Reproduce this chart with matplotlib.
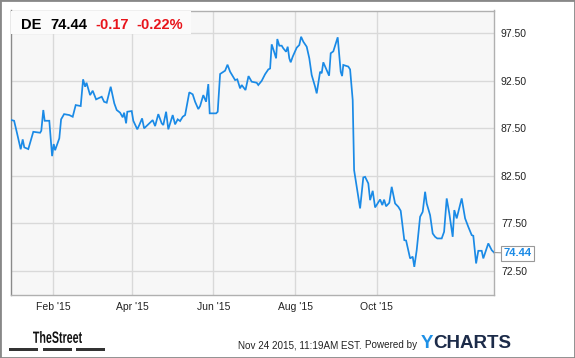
import matplotlib
matplotlib.use("Agg")
import matplotlib.pyplot as plt
from matplotlib.patches import Rectangle, PathPatch
from matplotlib.textpath import TextPath
from matplotlib.font_manager import FontProperties
from matplotlib.transforms import Affine2D

plt.rcParams.update({
    "font.family": "Liberation Sans",
    "font.size": 7.5,
})

# session index (roughly trading days since start of Jan '15) and DE close
sessions = [0, 1.8, 3.1, 5.1, 6.1, 6.9, 8.9, 11.4, 14.8, 15.4, 16.4, 17.1, 19.4, 20.8,
            21.6, 22.3, 24.4, 25.3, 26.8, 29.4, 31.1, 32.6, 35.1, 36.3, 37.3, 38.0,
            39.8, 41.1, 42.8, 45.6, 46.8, 48.1, 50.1, 51.9, 53.1, 54.8, 56.1, 56.8,
            57.8, 58.4, 60.6, 61.4, 63.4, 64.4, 65.8, 66.8, 68.9, 71.1, 72.3, 73.9,
            75.6, 76.4, 77.8, 78.9, 81.1, 82.3, 83.6, 84.8, 86.1, 87.3, 89.4, 91.1,
            92.3, 93.9, 94.8, 96.4, 97.8, 98.9, 99.6, 102.8, 103.6, 104.8, 107.3,
            108.5, 109.8, 112.3, 113.4, 114.8, 115.6, 117.5, 119.0, 120.6, 123.1,
            123.9, 125.6, 127.3, 128.9, 129.8, 130.6, 131.8, 132.8, 133.4, 134.4,
            135.6, 136.4, 137.8, 138.6, 139.4, 140.1, 141.1, 143.1, 144.4, 145.3,
            146.4, 148.1, 149.4, 150.6, 152.3, 153.1, 153.9, 154.8, 155.6, 156.4,
            158.1, 159.3, 160.1, 161.4, 163.6, 165.1, 165.8, 166.4, 168.9, 169.8,
            171.1, 171.8, 173.4, 174.8, 176.4, 177.3, 178.9, 179.8, 181.1, 182.3,
            184.8, 185.9, 186.8, 187.8, 189.4, 190.6, 192.3, 193.9, 195.1, 196.9,
            197.8, 199.8, 201.1, 201.9, 203.1, 204.8, 206.1, 207.3, 208.1, 209.8,
            211.1, 212.3, 213.4, 215.6, 216.8, 218.1, 219.4, 221.1, 221.9, 223.1,
            225.6, 227.3, 228.9, 230.6, 231.4, 232.8, 233.9, 235.6, 236.4, 238.9,
            240.6, 241.75]
prices = [88.40, 88.30, 87.14, 85.30, 86.34, 85.50, 85.32, 87.14, 87.04, 87.25, 89.43,
          88.30, 88.30, 84.58, 85.85, 85.20, 86.45, 88.45, 89.00, 88.90, 88.72, 89.95,
          89.85, 92.66, 91.88, 92.30, 91.00, 91.46, 90.55, 90.83, 90.30, 90.20, 91.88,
          90.13, 89.43, 89.15, 88.66, 89.15, 88.03, 89.25, 89.32, 88.30, 87.40, 87.85,
          88.55, 87.50, 87.92, 88.37, 87.74, 89.00, 88.03, 87.85, 89.25, 87.40, 88.90,
          87.92, 88.45, 88.27, 88.72, 88.90, 91.29, 91.08, 90.30, 89.53, 89.85, 91.00,
          90.30, 92.16, 89.08, 89.08, 89.25, 93.22, 93.57, 94.20, 93.46, 92.58, 92.66,
          91.71, 92.06, 91.53, 93.00, 92.41, 92.30, 92.06, 92.50, 93.20, 93.70, 93.80,
          96.34, 95.56, 94.87, 96.90, 96.20, 96.20, 95.92, 95.56, 96.09, 94.87, 94.45,
          95.04, 95.99, 96.27, 97.14, 96.62, 96.09, 94.87, 93.11, 91.88, 91.18, 92.24,
          93.46, 93.30, 94.45, 93.64, 93.04, 95.40, 95.60, 97.08, 93.46, 93.00, 94.17,
          94.00, 93.70, 90.48, 83.11, 81.00, 79.08, 82.34, 82.40, 81.71, 79.95, 80.93,
          79.18, 80.02, 79.43, 80.00, 79.30, 79.67, 81.35, 79.60, 79.25, 78.83, 75.74,
          75.70, 73.82, 74.00, 72.93, 74.69, 78.20, 78.72, 80.83, 79.60, 78.37, 76.44,
          76.09, 75.92, 75.92, 76.62, 80.13, 78.55, 76.09, 78.90, 78.03, 80.13, 78.03,
          77.14, 76.27, 76.20, 73.29, 74.62, 74.62, 73.82, 75.40, 74.69, 74.44]

tick_pos = [21.4, 60.9, 101.4, 142.25, 183.1]
tick_labels = ["Feb '15", "Apr '15", "Jun '15", "Aug '15", "Oct '15"]
y_ticks = [72.5, 77.5, 82.5, 87.5, 92.5, 97.5]

W, H = 575, 358
fig = plt.figure(figsize=(W / 100, H / 100), dpi=100)
fig.patch.set_facecolor("white")
ax = fig.add_axes([10.5 / W, 1 - 295 / H, 483.5 / W, 284.5 / H])
ax.set_facecolor("#f7f7f7")

ax.plot(sessions, prices, color="#1a8ae6", lw=1.25, solid_joinstyle="miter", zorder=3)

ax.set_xlim(0, 241.75)
ax.set_ylim(69.97, 99.9)
ax.set_xticks(tick_pos)
ax.set_xticklabels(tick_labels)
ax.set_yticks(y_ticks)
ax.set_yticklabels(["%.2f" % v for v in y_ticks])
ax.yaxis.tick_right()
ax.tick_params(length=0, colors="#222222", labelsize=7.5)
ax.tick_params(axis="y", pad=5)
ax.tick_params(axis="x", pad=5)
ax.grid(True, color="#d9d9d9", lw=1)
ax.set_axisbelow(True)
for s in ax.spines.values():
    s.set_color("#b0b0b0")
    s.set_linewidth(1)
ax.spines["left"].set_color("#8a8a8a")

# header box with quote
fig.add_artist(Rectangle((11 / W, 1 - 34 / H), 180 / W, 23 / H, transform=fig.transFigure,
                         facecolor="#fbfbfb", edgecolor="none", zorder=5))
base = 1 - 29 / H
fig.text(21 / W, base, "DE", fontsize=10.5, fontweight="bold", color="black", zorder=6)
fig.text(50 / W, base, "74.44", fontsize=10.5, fontweight="bold", color="black", zorder=6)
fig.text(95 / W, base, "-0.17", fontsize=10.5, fontweight="bold", color="#e8141b", zorder=6)
fig.text(136 / W, base, "-0.22%", fontsize=10.5, fontweight="bold", color="#e8141b", zorder=6)

# last value tag
ax.annotate("74.44", xy=(sessions[-1], prices[-1]), xytext=(517.5, H - 253.5),
            textcoords="figure pixels", ha="center", va="center",
            fontsize=8, fontweight="bold", color="#1a8ae6",
            bbox=dict(boxstyle="square,pad=0.2", fc="white", ec="#999999", lw=0.8),
            arrowprops=dict(arrowstyle="-", color="#999999", lw=0.8, shrinkA=0, shrinkB=0),
            annotation_clip=False, zorder=6)

# footer: TheStreet logo
tp = TextPath((0, 0), "TheStreet", size=10, prop=FontProperties(family="Liberation Sans", weight="bold"))
ext = tp.get_extents()
sx = (82 - 33) / ext.width
sy = (343 - 331) / ext.height
tr = Affine2D().translate(-ext.x0, -ext.y0).scale(sx, sy).translate(33, H - 343)
fig.add_artist(PathPatch(tr.transform_path(tp), transform=None, fc="#111111", ec="none"))
for x0, x1 in [(9, 38), (43, 72), (76, 105)]:
    fig.add_artist(Rectangle((x0 / W, 1 - 351 / H), (x1 - x0) / W, 3 / H,
                             transform=fig.transFigure, fc="#333333", ec="none"))

fig.text(237.5 / W, 1 - 348.5 / H, "Nov 24 2015, 11:19AM EST.", fontsize=7.1, color="#222222")
fig.text(365 / W, 1 - 348.5 / H, "Powered by", fontsize=7.1, color="#222222")
fig.text(421 / W, 1 - 348.5 / H, "Y", fontsize=13.5, fontweight="bold", color="#1e90e6")
fig.text(433 / W, 1 - 348.5 / H, "CHARTS", fontsize=13.5, fontweight="bold", color="#1c2b49")

# outer frame
fig.add_artist(Rectangle((0, 0), 1, 1, transform=fig.transFigure, fill=False,
                         ec="#888888", lw=2, zorder=10))

fig.savefig("out.png", dpi=100)
